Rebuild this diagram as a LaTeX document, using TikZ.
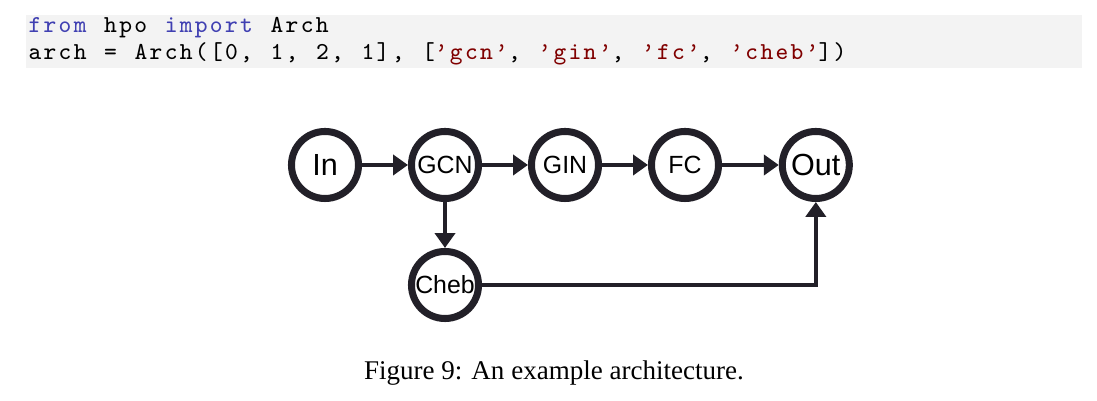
\documentclass[tikz,border=0pt]{standalone}
\usepackage{fontspec}
\setmainfont{Liberation Serif}
\newfontfamily\nodefont{Liberation Sans}
\newfontfamily\codefont{Latin Modern Mono}[LetterSpace=9.5, WordSpace=1.17]
\usepackage{xcolor}
\usetikzlibrary{arrows.meta,positioning}
\definecolor{ink}{RGB}{34,32,40}
\definecolor{codebg}{RGB}{243,243,243}
\definecolor{kwblue}{RGB}{64,64,178}
\definecolor{strred}{RGB}{128,0,0}
\newcommand{\kw}[1]{\textcolor{kwblue}{#1}}
\newcommand{\str}[1]{\textcolor{strred}{#1}}

\begin{document}
\begin{tikzpicture}[
    x=0.37pt, y=-0.37pt,
    node distance=17pt,
    layer/.style={circle, draw=ink, line width=2.6pt, minimum size=24.8pt,
        inner sep=0pt, font=\nodefont\fontsize{9.2}{10}\selectfont},
    io/.style={layer, font=\nodefont\fontsize{11.3}{12}\selectfont},
    code/.style={anchor=base west, inner sep=0pt,
        font=\codefont\fontsize{9}{11}\selectfont},
    arr/.style={-{Triangle[length=5.5pt, width=7.4pt]}, line width=1.65pt, ink}
]
\useasboundingbox (0,0) rectangle (1097,401);
\fill[codebg] (26,15) rectangle (1082,68);
\node[code] (line1) at (28,33) {\kw{from} hpo \kw{import} Arch};
\node[code] (line2) at (28,60) {arch = Arch([0, 1, 2, 1], [\str{’gcn’}, \str{’gin’}, \str{’fc’}, \str{’cheb’}])};

\node[io] (in) at (325,165) {In};
\node[layer, right=of in] (gcn) {GCN};
\node[layer, right=of gcn] (gin) {GIN};
\node[layer, right=of gin] (fc) {FC};
\node[io, right=21pt of fc] (out) {Out};
\node[layer, below=of gcn] (cheb) {Cheb};

\draw[arr] (in) -- (gcn);
\draw[arr] (gcn) -- (gin);
\draw[arr] (gin) -- (fc);
\draw[arr] (fc) -- (out);
\draw[arr] (gcn) -- (cheb);
\draw[arr] (cheb) -| (out);

\node[anchor=base, font=\fontsize{10}{12}\selectfont] (caption) at (554,380)
    {Figure 9: An example architecture.};
\end{tikzpicture}
\end{document}
